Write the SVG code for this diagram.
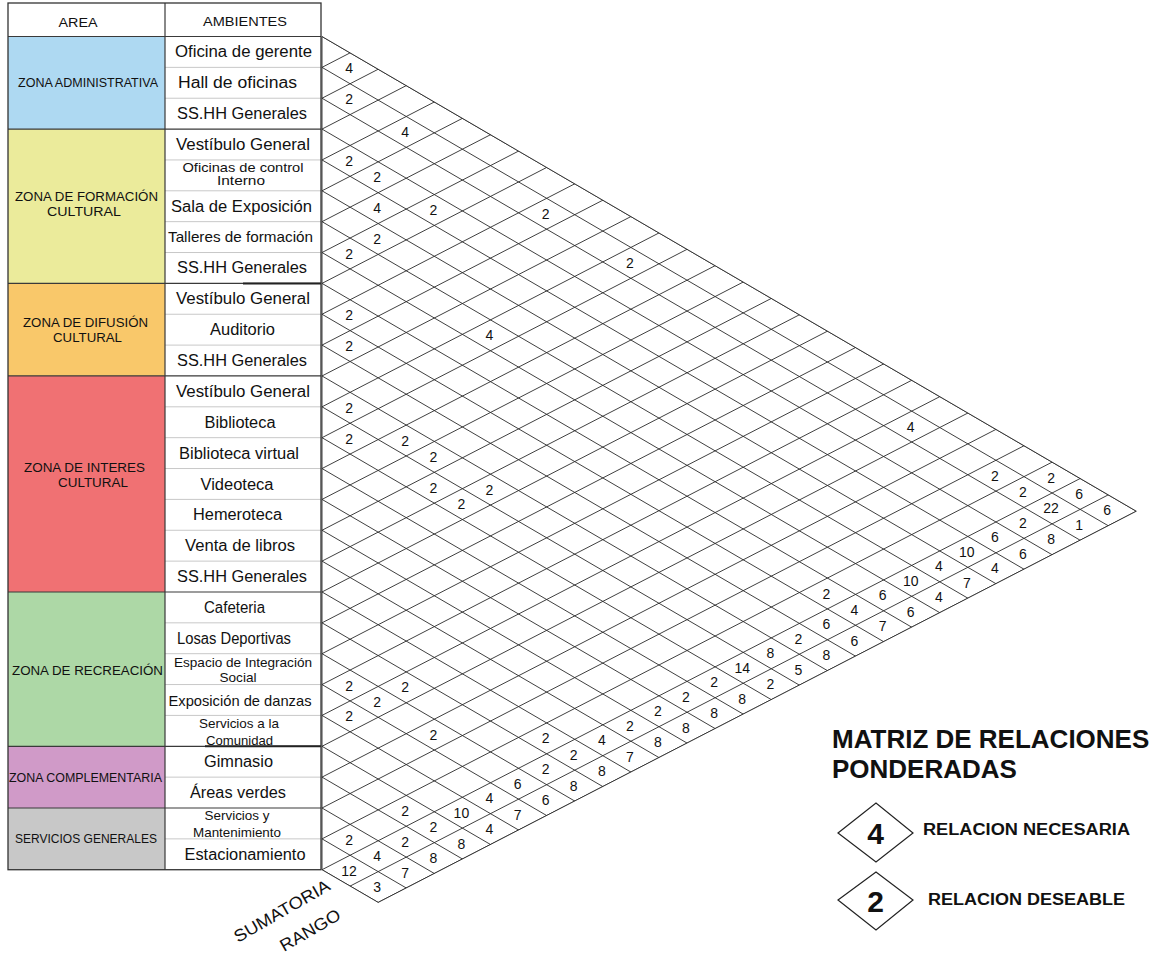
<svg xmlns="http://www.w3.org/2000/svg" width="1161" height="957" viewBox="0 0 1161 957">
<style>
.t{font-family:"Liberation Sans",Arial,sans-serif;fill:#111}
.amb{font-size:16px;text-anchor:middle}
.amb2{font-size:13px;text-anchor:middle}
.area{font-size:12px;text-anchor:middle}
.hd{font-size:12px;text-anchor:middle}
.n{font-family:"Liberation Sans",Arial,sans-serif;font-size:14px;text-anchor:middle;fill:#111}
.lt{stroke:#c8c8c8;stroke-width:1}
.dk{stroke:#3a3a3a;stroke-width:1.2}
.grid{fill:none;stroke:#2a2a2a;stroke-width:0.9}
.lg{font-family:"Liberation Sans",Arial,sans-serif;font-weight:bold;fill:#111}
</style>
<defs>
<clipPath id="tri"><polygon points="322,36.5 1136.3,511.2 378.2,902.4 322,869.72"/></clipPath>
</defs>
<rect x="0" y="0" width="1161" height="957" fill="#fff"/>

<g id="table">
<g id="header">
<rect x="8" y="3" width="313" height="33.5" fill="#fff"/>
<text class="t hd" x="78" y="27" textLength="39" lengthAdjust="spacingAndGlyphs">AREA</text>
<text class="t hd" x="245" y="26" textLength="84" lengthAdjust="spacingAndGlyphs">AMBIENTES</text>
</g>
<rect x="165" y="36.5" width="156" height="833.22" fill="#fff"/>
<g id="zona-administrativa">
<rect x="8" y="36.5" width="157" height="92.58" fill="#aed9f2"/>
<text class="t area" x="88" y="87" textLength="140" lengthAdjust="spacingAndGlyphs">ZONA ADMINISTRATIVA</text>
</g>
<g id="zona-formacion">
<rect x="8" y="129.08" width="157" height="154.3" fill="#ebeb9b"/>
<text class="t area" x="86.5" y="201" textLength="143" lengthAdjust="spacingAndGlyphs">ZONA DE FORMACIÓN</text>
<text class="t area" x="84" y="216" textLength="74" lengthAdjust="spacingAndGlyphs">CULTURAL</text>
</g>
<g id="zona-difusion">
<rect x="8" y="283.38" width="157" height="92.58" fill="#f9c86a"/>
<text class="t area" x="85.5" y="327" textLength="125" lengthAdjust="spacingAndGlyphs">ZONA DE DIFUSIÓN</text>
<text class="t area" x="87.5" y="342" textLength="69" lengthAdjust="spacingAndGlyphs">CULTURAL</text>
</g>
<g id="zona-interes">
<rect x="8" y="375.96" width="157" height="216.02" fill="#f07173"/>
<text class="t area" x="84.5" y="472" textLength="121" lengthAdjust="spacingAndGlyphs">ZONA DE INTERES</text>
<text class="t area" x="93" y="487" textLength="70" lengthAdjust="spacingAndGlyphs">CULTURAL</text>
</g>
<g id="zona-recreacion">
<rect x="8" y="591.98" width="157" height="154.3" fill="#add8a6"/>
<text class="t area" x="87.5" y="675" textLength="151" lengthAdjust="spacingAndGlyphs">ZONA DE RECREACIÓN</text>
</g>
<g id="zona-complementaria">
<rect x="8" y="746.28" width="157" height="61.72" fill="#d09ac8"/>
<text class="t area" x="85.5" y="782" textLength="153" lengthAdjust="spacingAndGlyphs">ZONA COMPLEMENTARIA</text>
</g>
<g id="servicios-generales">
<rect x="8" y="808" width="157" height="61.72" fill="#c8c8c8"/>
<text class="t area" x="86" y="843" textLength="142" lengthAdjust="spacingAndGlyphs">SERVICIOS GENERALES</text>
</g>

<g id="row-lines">
<path class="lt" d="M165,67.36H321M165,98.22H321M165,159.94H321M165,190.8H321M165,221.66H321M165,252.52H321M165,314.24H321M165,345.1H321M165,406.82H321M165,437.68H321M165,468.54H321M165,499.4H321M165,530.26H321M165,561.12H321M165,622.84H321M165,653.7H321M165,684.56H321M165,715.42H321M165,777.14H321M165,838.86H321"/>
<path class="dk" d="M8,36.5H321M8,129.08H321M8,283.38H321M8,375.96H321M8,591.98H321M8,746.28H321M8,808H321M165,3V869.72"/>
<path stroke="#222" stroke-width="2" d="M243,283.38H321M205,746.28H321"/>
<rect x="8" y="3" width="313" height="866.72" fill="none" stroke="#333" stroke-width="1.3"/>
</g>

<g id="ambientes">
<text class="t amb" x="243.5" y="57.4" textLength="137" lengthAdjust="spacingAndGlyphs">Oficina de gerente</text>
<text class="t amb" x="237.5" y="88.3" textLength="119" lengthAdjust="spacingAndGlyphs">Hall de oficinas</text>
<text class="t amb" x="242" y="119.1" textLength="130" lengthAdjust="spacingAndGlyphs">SS.HH Generales</text>
<text class="t amb" x="243" y="150" textLength="134" lengthAdjust="spacingAndGlyphs">Vestíbulo General</text>
<text class="t amb2" x="243" y="172" textLength="121" lengthAdjust="spacingAndGlyphs">Oficinas de control</text>
<text class="t amb2" x="241" y="185" textLength="48" lengthAdjust="spacingAndGlyphs">Interno</text>
<text class="t amb" x="241.5" y="211.7" textLength="141" lengthAdjust="spacingAndGlyphs">Sala de Exposición</text>
<text class="t amb" x="240.5" y="242.3" textLength="145" lengthAdjust="spacingAndGlyphs" style="font-size:15px">Talleres de formación</text>
<text class="t amb" x="242" y="273.4" textLength="130" lengthAdjust="spacingAndGlyphs">SS.HH Generales</text>
<text class="t amb" x="243" y="304.3" textLength="134" lengthAdjust="spacingAndGlyphs">Vestíbulo General</text>
<text class="t amb" x="242.5" y="335.2" textLength="65" lengthAdjust="spacingAndGlyphs">Auditorio</text>
<text class="t amb" x="242" y="366" textLength="130" lengthAdjust="spacingAndGlyphs">SS.HH Generales</text>
<text class="t amb" x="243" y="396.9" textLength="134" lengthAdjust="spacingAndGlyphs">Vestíbulo General</text>
<text class="t amb" x="240" y="427.7" textLength="71" lengthAdjust="spacingAndGlyphs">Biblioteca</text>
<text class="t amb" x="239" y="458.6" textLength="120" lengthAdjust="spacingAndGlyphs">Biblioteca virtual</text>
<text class="t amb" x="237" y="489.5" textLength="73" lengthAdjust="spacingAndGlyphs">Videoteca</text>
<text class="t amb" x="237.5" y="520.3" textLength="89" lengthAdjust="spacingAndGlyphs">Hemeroteca</text>
<text class="t amb" x="240" y="551.2" textLength="110" lengthAdjust="spacingAndGlyphs">Venta de libros</text>
<text class="t amb" x="242" y="582" textLength="130" lengthAdjust="spacingAndGlyphs">SS.HH Generales</text>
<text class="t amb" x="234.5" y="612.9" textLength="61" lengthAdjust="spacingAndGlyphs">Cafeteria</text>
<text class="t amb" x="234" y="643.8" textLength="114" lengthAdjust="spacingAndGlyphs">Losas Deportivas</text>
<text class="t amb2" x="243" y="667" textLength="138" lengthAdjust="spacingAndGlyphs">Espacio de Integración</text>
<text class="t amb2" x="238" y="682" textLength="37" lengthAdjust="spacingAndGlyphs">Social</text>
<text class="t amb" x="240" y="705.5" textLength="143" lengthAdjust="spacingAndGlyphs" style="font-size:15px">Exposición de danzas</text>
<text class="t amb2" x="239" y="728" textLength="80" lengthAdjust="spacingAndGlyphs">Servicios a la</text>
<text class="t amb2" x="239.5" y="745" textLength="67" lengthAdjust="spacingAndGlyphs">Comunidad</text>
<text class="t amb" x="238.5" y="767.2" textLength="69" lengthAdjust="spacingAndGlyphs">Gimnasio</text>
<text class="t amb" x="238" y="798.1" textLength="96" lengthAdjust="spacingAndGlyphs">Áreas verdes</text>
<text class="t amb2" x="237" y="820" textLength="65" lengthAdjust="spacingAndGlyphs">Servicios y</text>
<text class="t amb2" x="237" y="837" textLength="88" lengthAdjust="spacingAndGlyphs">Mantenimiento</text>
<text class="t amb" x="245" y="859.8" textLength="121" lengthAdjust="spacingAndGlyphs">Estacionamiento</text>
</g>
</g>

<g id="connectors">
<g clip-path="url(#tri)">
<path class="grid" d="M322,36.5l900,524.7M322,67.36l900,524.7M322,98.22l900,524.7M322,129.08l900,524.7M322,159.94l900,524.7M322,190.8l900,524.7M322,221.66l900,524.7M322,252.52l900,524.7M322,283.38l900,524.7M322,314.24l900,524.7M322,345.1l900,524.7M322,375.96l900,524.7M322,406.82l900,524.7M322,437.68l900,524.7M322,468.54l900,524.7M322,499.4l900,524.7M322,530.26l900,524.7M322,561.12l900,524.7M322,591.98l900,524.7M322,622.84l900,524.7M322,653.7l900,524.7M322,684.56l900,524.7M322,715.42l900,524.7M322,746.28l900,524.7M322,777.14l900,524.7M322,808l900,524.7M322,838.86l900,524.7M322,869.72l900,524.7"/>
<path class="grid" d="M322,67.36l900,-464.4M322,98.22l900,-464.4M322,129.08l900,-464.4M322,159.94l900,-464.4M322,190.8l900,-464.4M322,221.66l900,-464.4M322,252.52l900,-464.4M322,283.38l900,-464.4M322,314.24l900,-464.4M322,345.1l900,-464.4M322,375.96l900,-464.4M322,406.82l900,-464.4M322,437.68l900,-464.4M322,468.54l900,-464.4M322,499.4l900,-464.4M322,530.26l900,-464.4M322,561.12l900,-464.4M322,591.98l900,-464.4M322,622.84l900,-464.4M322,653.7l900,-464.4M322,684.56l900,-464.4M322,715.42l900,-464.4M322,746.28l900,-464.4M322,777.14l900,-464.4M322,808l900,-464.4M322,838.86l900,-464.4M322,869.72l900,-464.4M322,900.58l900,-464.4M322,931.44l900,-464.4"/>
</g>
<polygon class="grid" points="322,36.5 1136.3,511.2 378.2,902.4 322,869.72"/>
</g>

<g id="values">
<text class="n" x="349.1" y="73.3">4</text>
<text class="n" x="349.1" y="104.2">2</text>
<text class="n" x="405.2" y="136.9">4</text>
<text class="n" x="349.1" y="165.9">2</text>
<text class="n" x="377.2" y="182.3">2</text>
<text class="n" x="377.2" y="213.1">4</text>
<text class="n" x="433.3" y="215">2</text>
<text class="n" x="545.6" y="218.8">2</text>
<text class="n" x="377.2" y="244">2</text>
<text class="n" x="349.1" y="258.5">2</text>
<text class="n" x="629.9" y="267.9">2</text>
<text class="n" x="349.1" y="320.2">2</text>
<text class="n" x="349.1" y="351">2</text>
<text class="n" x="489.5" y="340.3">4</text>
<text class="n" x="349.1" y="412.8">2</text>
<text class="n" x="349.1" y="443.6">2</text>
<text class="n" x="405.2" y="445.5">2</text>
<text class="n" x="433.3" y="461.9">2</text>
<text class="n" x="433.3" y="492.7">2</text>
<text class="n" x="489.5" y="494.6">2</text>
<text class="n" x="461.4" y="509.1">2</text>
<text class="n" x="910.7" y="431.6">4</text>
<text class="n" x="994.9" y="480.7">2</text>
<text class="n" x="1051.1" y="482.6">2</text>
<text class="n" x="1023" y="497">2</text>
<text class="n" x="826.4" y="598.5">2</text>
<text class="n" x="349.1" y="690.5">2</text>
<text class="n" x="405.2" y="692.4">2</text>
<text class="n" x="377.2" y="706.9">2</text>
<text class="n" x="349.1" y="721.4">2</text>
<text class="n" x="433.3" y="739.6">2</text>
<text class="n" x="545.6" y="743.4">2</text>
<text class="n" x="405.2" y="815.8">2</text>
<text class="n" x="349.1" y="844.8">2</text>
</g>

<g id="sumatoria">
<text class="n" x="1079.2" y="498.9">6</text>
<text class="n" x="1051.1" y="513.4">22</text>
<text class="n" x="1023" y="527.9">2</text>
<text class="n" x="994.9" y="542.4">6</text>
<text class="n" x="966.8" y="556.9">10</text>
<text class="n" x="938.8" y="571.4">4</text>
<text class="n" x="910.7" y="585.9">10</text>
<text class="n" x="882.6" y="600.4">6</text>
<text class="n" x="854.5" y="614.8">4</text>
<text class="n" x="826.4" y="629.3">6</text>
<text class="n" x="798.4" y="643.8">2</text>
<text class="n" x="770.3" y="658.3">8</text>
<text class="n" x="742.2" y="672.8">14</text>
<text class="n" x="714.1" y="687.3">2</text>
<text class="n" x="686" y="701.8">2</text>
<text class="n" x="658" y="716.3">2</text>
<text class="n" x="629.9" y="730.8">2</text>
<text class="n" x="601.8" y="745.3">4</text>
<text class="n" x="573.7" y="759.7">2</text>
<text class="n" x="545.6" y="774.2">2</text>
<text class="n" x="517.6" y="788.7">6</text>
<text class="n" x="489.5" y="803.2">4</text>
<text class="n" x="461.4" y="817.7">10</text>
<text class="n" x="433.3" y="832.2">2</text>
<text class="n" x="405.2" y="846.7">2</text>
<text class="n" x="377.2" y="861.2">4</text>
<text class="n" x="349.1" y="875.7">12</text>
</g>

<g id="rango">
<text class="n" x="1107.2" y="515.3">6</text>
<text class="n" x="1079.2" y="529.8">1</text>
<text class="n" x="1051.1" y="544.3">8</text>
<text class="n" x="1023" y="558.8">6</text>
<text class="n" x="994.9" y="573.3">4</text>
<text class="n" x="966.8" y="587.7">7</text>
<text class="n" x="938.8" y="602.2">4</text>
<text class="n" x="910.7" y="616.7">6</text>
<text class="n" x="882.6" y="631.2">7</text>
<text class="n" x="854.5" y="645.7">6</text>
<text class="n" x="826.4" y="660.2">8</text>
<text class="n" x="798.4" y="674.7">5</text>
<text class="n" x="770.3" y="689.2">2</text>
<text class="n" x="742.2" y="703.7">8</text>
<text class="n" x="714.1" y="718.2">8</text>
<text class="n" x="686" y="732.6">8</text>
<text class="n" x="658" y="747.1">8</text>
<text class="n" x="629.9" y="761.6">7</text>
<text class="n" x="601.8" y="776.1">8</text>
<text class="n" x="573.7" y="790.6">8</text>
<text class="n" x="545.6" y="805.1">6</text>
<text class="n" x="517.6" y="819.6">7</text>
<text class="n" x="489.5" y="834.1">4</text>
<text class="n" x="461.4" y="848.6">8</text>
<text class="n" x="433.3" y="863.1">8</text>
<text class="n" x="405.2" y="877.5">7</text>
<text class="n" x="377.2" y="892">3</text>
</g>

<g id="axis-labels">
<text class="t" style="font-size:17px" transform="translate(238,943) rotate(-30)" textLength="108" lengthAdjust="spacingAndGlyphs">SUMATORIA</text>
<text class="t" style="font-size:17px" transform="translate(284,952) rotate(-30)" textLength="67" lengthAdjust="spacingAndGlyphs">RANGO</text>
</g>

<g id="legend">
<text class="lg" x="832" y="748" style="font-size:26px">MATRIZ DE RELACIONES</text>
<text class="lg" x="832" y="778" style="font-size:26px">PONDERADAS</text>
<g id="legend-necesaria">
<polygon points="838,833 876,803 913,833 876,862" fill="#fff" stroke="#222" stroke-width="1.2"/>
<text class="lg" x="875.5" y="844" style="font-size:30px" text-anchor="middle">4</text>
<text class="lg" x="923" y="835" style="font-size:16px" textLength="207" lengthAdjust="spacingAndGlyphs">RELACION NECESARIA</text>
</g>
<g id="legend-deseable">
<polygon points="838,900 876,872 913,900 876,930" fill="#fff" stroke="#222" stroke-width="1.2"/>
<text class="lg" x="875.5" y="912" style="font-size:30px" text-anchor="middle">2</text>
<text class="lg" x="928" y="905" style="font-size:16px" textLength="197" lengthAdjust="spacingAndGlyphs">RELACION DESEABLE</text>
</g>
</g>
</svg>
